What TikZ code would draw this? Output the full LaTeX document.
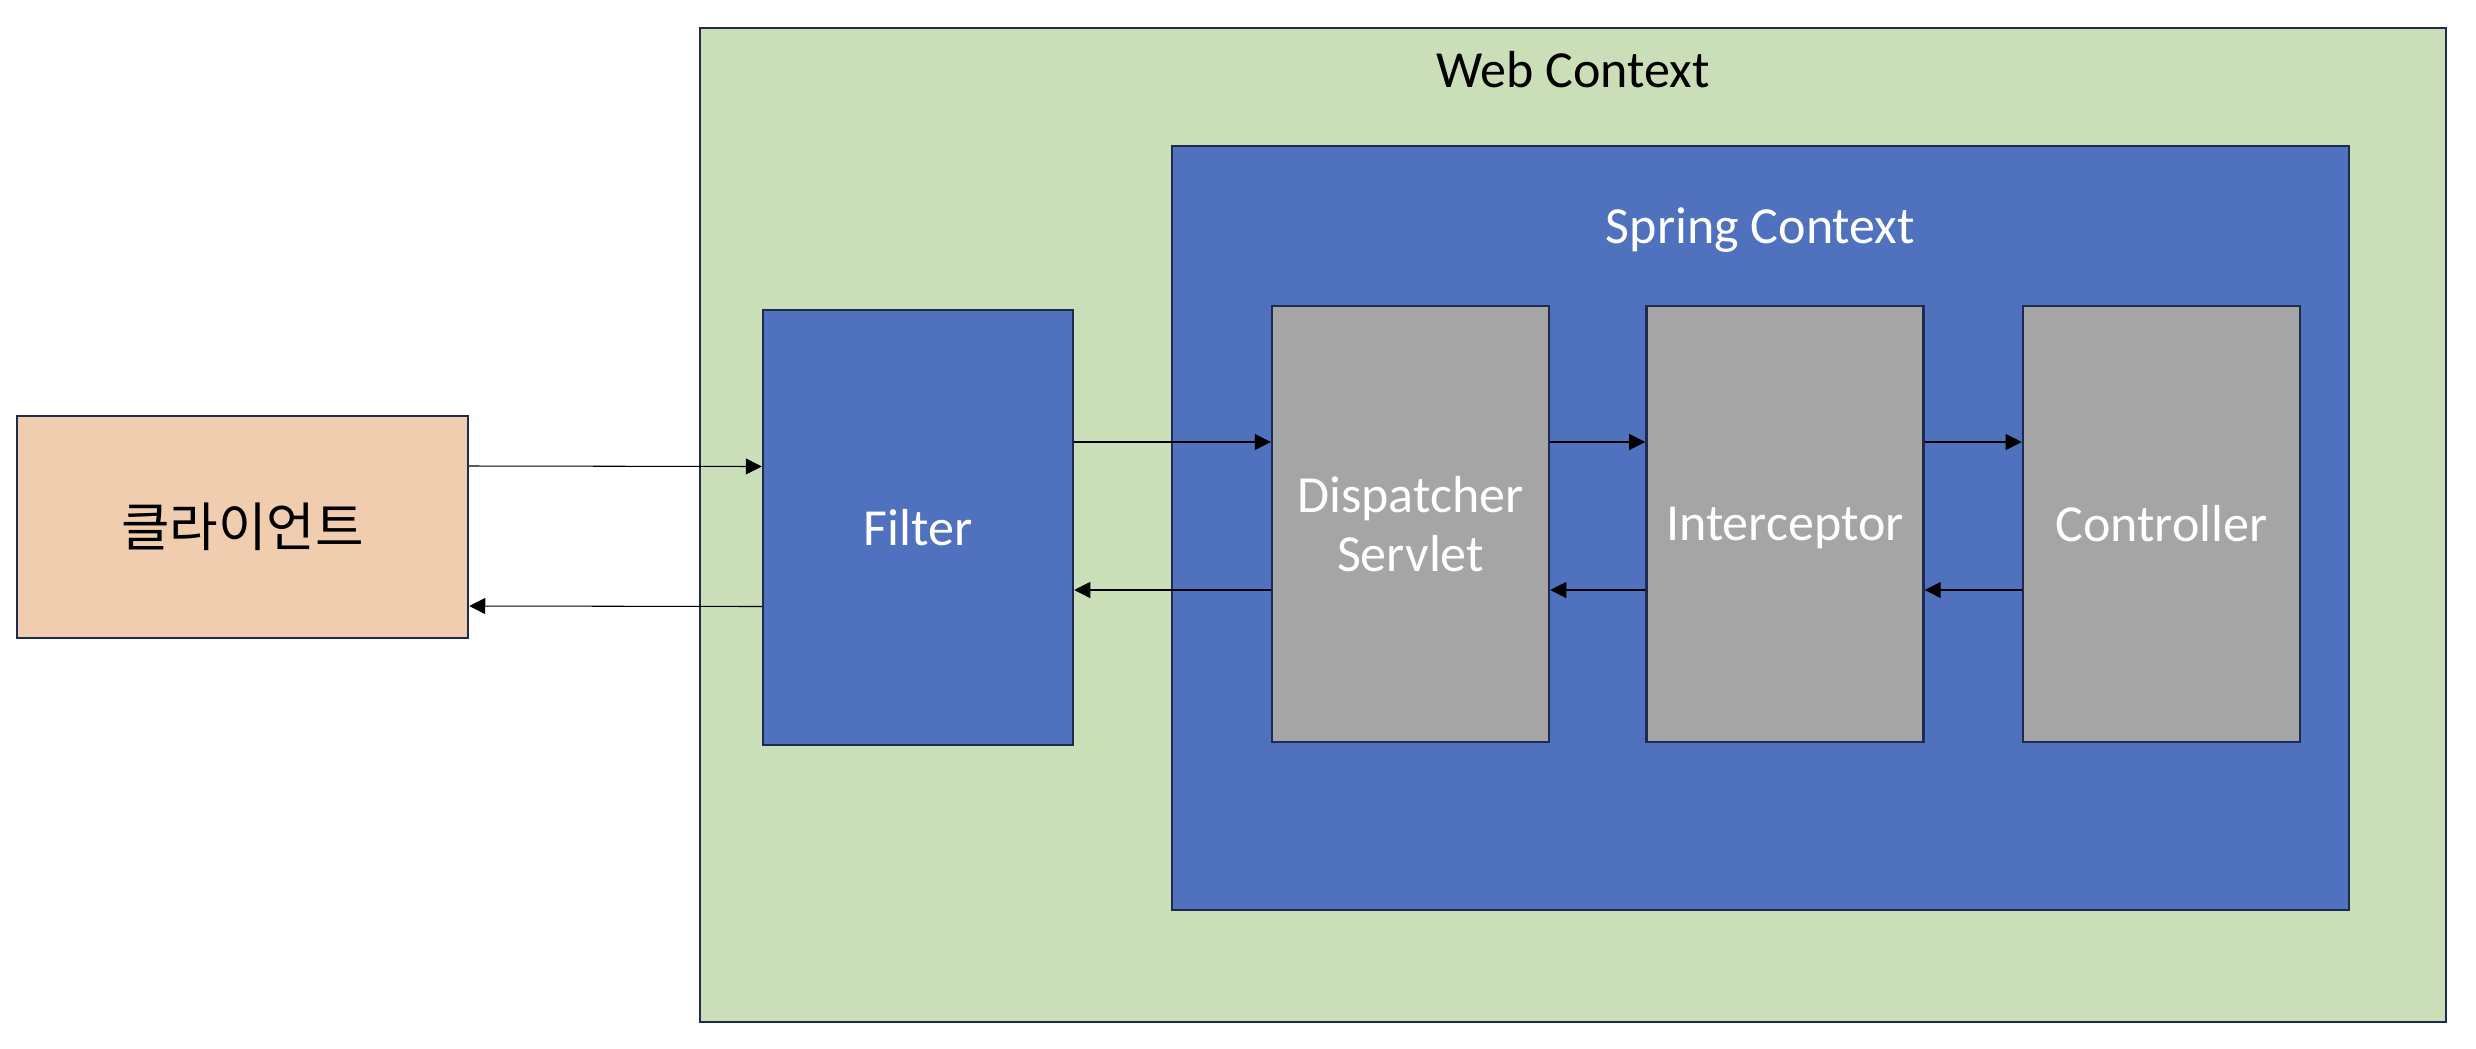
\documentclass[tikz,border=0pt]{standalone}
\usepackage{fontspec}
\setmainfont{Carlito}
\newfontfamily\krfont{Noto Sans CJK KR}
\usetikzlibrary{positioning,calc,arrows.meta}

\definecolor{webgreen}{HTML}{CADFB8}
\definecolor{springblue}{HTML}{5072BE}
\definecolor{boxgray}{HTML}{A5A5A5}
\definecolor{peach}{HTML}{F1CDB0}
\definecolor{navy}{HTML}{1F2B4E}

\begin{document}
\begin{tikzpicture}[
    x=0.01cm, y=-0.01cm,
    font=\fontsize{14.8}{17}\selectfont
  ]
\def\nw{0.01cm}

\useasboundingbox (0,0) rectangle (2476,1048);

\tikzstyle{box}=[draw=navy,line width=0.7pt,inner sep=0pt,align=center];

% outer contexts
\node[box,fill=webgreen,minimum width=1746*\nw,minimum height=994*\nw] at (1573,525) (web) {};
\node at ($ (web.north) + (0,43) $) (webtitle) {Web Context};

\node[box,fill=springblue,minimum width=1177*\nw,minimum height=764*\nw] at (1760.5,528) (spring) {};
\node[text=white,text depth=0pt] at ($ (spring.north) + (0,81) $) (springtitle) {Spring Context};

\tikzstyle{stage}=[box,fill=boxgray,text=white,minimum width=277*\nw,minimum height=436*\nw,node distance=95*\nw];
\node[stage] at (1410.5,524) (disp) {Dispatcher\\Servlet};
\node[stage,text depth=0pt,right= of disp] (inter) {Interceptor};
\node[stage,right=97*\nw of inter] (ctrl) {Controller};

\node[box,fill=springblue,text=white,minimum width=310*\nw,minimum height=435*\nw] at (918,527.5) (filter) {Filter};

\node[box,fill=peach,minimum width=451*\nw,minimum height=222*\nw,font=\krfont\fontsize{15}{18}\selectfont] at (242.5,527) (client) {클라이언트};

\tikzstyle{flow}=[-{Triangle[length=1.6mm,width=1.6mm]},line width=0.3pt,draw=black];

\draw[flow] ([yshift=61*\nw]client.east) -- ([yshift=61*\nw]filter.west);
\draw[flow] ([yshift=-79*\nw]filter.west) -- ([yshift=-79*\nw]client.east);

\draw[flow] ([yshift=82*\nw]disp.west -| filter.east) -- ([yshift=82*\nw]disp.west);
\draw[flow] ([yshift=-66*\nw]disp.west) -- ([yshift=-66*\nw]disp.west -| filter.east);

\draw[flow] ([yshift=82*\nw]disp.east) -- ([yshift=82*\nw]inter.west);
\draw[flow] ([yshift=-66*\nw]inter.west) -- ([yshift=-66*\nw]disp.east);

\draw[flow] ([yshift=82*\nw]inter.east) -- ([yshift=82*\nw]ctrl.west);
\draw[flow] ([yshift=-66*\nw]ctrl.west) -- ([yshift=-66*\nw]inter.east);

\end{tikzpicture}
\end{document}
